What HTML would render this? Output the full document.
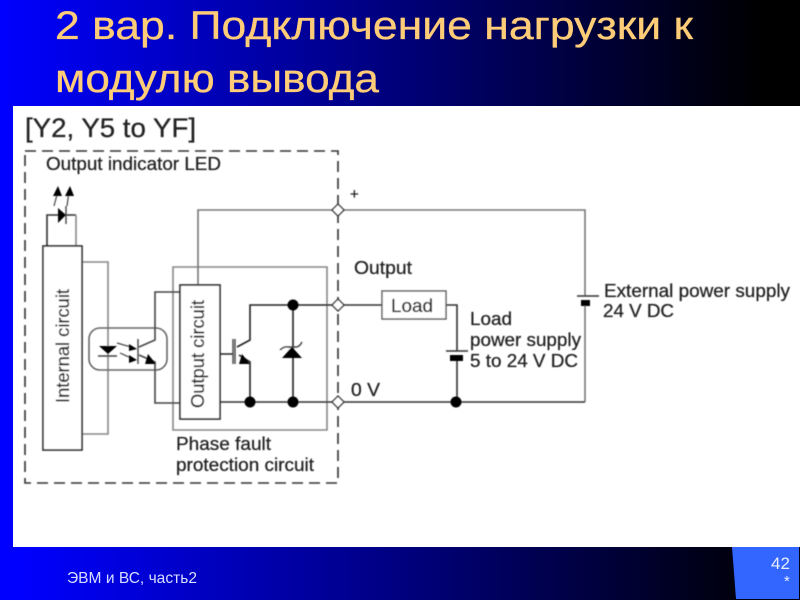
<!DOCTYPE html>
<html><head><meta charset="utf-8"><style>
html,body{margin:0;padding:0;width:800px;height:600px;overflow:hidden;background:#000}
svg{display:block}
text{font-family:"Liberation Sans",sans-serif}
</style></head><body>
<svg width="800" height="600" viewBox="0 0 800 600" xmlns="http://www.w3.org/2000/svg">
<defs><linearGradient id="g" gradientUnits="userSpaceOnUse" x1="0" x2="800" y1="0" y2="0"><stop offset="0" stop-color="#0000ff"/><stop offset=".95" stop-color="#000000"/></linearGradient>
<linearGradient id="f" gradientUnits="userSpaceOnUse" x1="20" x2="730" y1="0" y2="0"><stop offset="0" stop-color="#0000ff"/><stop offset="1" stop-color="#000010"/></linearGradient>
<filter id="b" x="-5%" y="-5%" width="110%" height="110%"><feGaussianBlur stdDeviation="0.4"/></filter></defs>
<rect width="800" height="600" fill="url(#g)"/>
<rect y="547" width="800" height="53" fill="url(#f)"/>
<rect x="13" y="106" width="787" height="441" fill="#fff"/>
<path d="M732 547H799V599H736Z" fill="#3366ff"/>
<g fill="#ffcc77" stroke="#ffcc77" stroke-width=".3" font-size="40"><text x="55" y="39" textLength="638" lengthAdjust="spacingAndGlyphs">2 вар. Подключение нагрузки к</text><text x="55" y="92" textLength="324" lengthAdjust="spacingAndGlyphs">модулю вывода</text></g>
<text x="67" y="583" font-size="16" fill="#d8deff" textLength="130" lengthAdjust="spacingAndGlyphs">ЭВМ и ВС, часть2</text>
<text x="771" y="569" font-size="17" fill="#e8eeff">42</text><text x="784" y="586" font-size="15" fill="#e8eeff">*</text>
<g filter="url(#b)">
<g fill="none" stroke="#555" stroke-width="1.6">
<path d="M25 151H338V483H25Z" stroke="#333" stroke-dasharray="11 6"/>
<path d="M173 267H327V430H173Z" stroke="#888"/>
<path d="M82 262H108V434H82" stroke="#888"/>
<rect x="89" y="328" width="78" height="42" rx="11" stroke="#666"/>
<path d="M198 285V210H585V296M585 305V402" stroke="#777"/>
<path d="M47 246V215H76" stroke="#333"/>
<path d="M76 215V246" stroke="#888"/>
<path d="M180 292H155V340L139 347M139 355L155 362V403H180" stroke="#444"/>
<path d="M220 402H585" stroke="#333"/>
<path d="M220 354H233M237 347L250 340V305H338M239 355L250 362V402M293 305V402" stroke="#222"/>
<path d="M338 305H382M446 305H457V351M457 360V402" stroke="#333"/>
</g>
<rect x="43" y="246" width="39" height="204" fill="#fff" stroke="#222" stroke-width="1.6"/>
<rect x="180" y="285" width="40" height="134" fill="#fff" stroke="#222" stroke-width="1.6"/>
<rect x="382" y="291" width="64" height="28" fill="#fff" stroke="#555" stroke-width="1.4"/>
<path d="M99 346H117L108 354Z M58 208L66 215L58 223Z M282 358H302L292 347Z" fill="#000"/>
<path d="M98 356H117M66 206V224M280 350Q284 346 288 347L297 347Q300 346 302 342M138 339V364M235 339V364M233 339V364" stroke="#444" stroke-width="1.4" fill="none"/>
<path d="M117 343L131 347M120 353L131 358M54 206L58 191M67 206L69 191" stroke="#444" stroke-width="1.2"/>
<path d="M137 349L129 344V351ZM137 360L129 355V363ZM58 186L53 196L62 196ZM70 186L65 196L74 196ZM148 354L156 364H145ZM242 354L250 364H239Z" fill="#000"/>
<g fill="#000"><circle cx="250" cy="402" r="5.5"/><circle cx="293" cy="402" r="5.5"/><circle cx="293" cy="305" r="5.5"/><circle cx="456" cy="402" r="5.5"/></g>
<path d="M446 351H468" stroke="#333" stroke-width="1.5"/><rect x="450" y="355" width="13" height="6" fill="#000"/>
<path d="M577 296H599" stroke="#333" stroke-width="1.5"/><rect x="581" y="300" width="9" height="6" fill="#000"/>
<g fill="#fff" stroke="#333" stroke-width="1.4"><path d="M332 210L338 204L344 210L338 216Z"/><path d="M332 305L338 299L344 305L338 311Z"/><path d="M332 402L338 396L344 402L338 408Z"/></g>
<g fill="#222" stroke="#222" stroke-width=".25">
<text x="25" y="137" font-size="27" textLength="171" lengthAdjust="spacingAndGlyphs">[Y2, Y5 to YF]</text>
<g font-size="18">
<text x="46" y="170" textLength="175" lengthAdjust="spacingAndGlyphs">Output indicator LED</text>
<text x="176" y="450" textLength="95" lengthAdjust="spacingAndGlyphs">Phase fault</text>
<text x="176" y="471" textLength="138" lengthAdjust="spacingAndGlyphs">protection circuit</text>
<text x="354" y="274" textLength="58" lengthAdjust="spacingAndGlyphs">Output</text>
<text x="391" y="312" textLength="42" lengthAdjust="spacingAndGlyphs">Load</text>
<text x="470" y="325" textLength="42" lengthAdjust="spacingAndGlyphs">Load</text>
<text x="470" y="346" textLength="111" lengthAdjust="spacingAndGlyphs">power supply</text>
<text x="470" y="367" textLength="108" lengthAdjust="spacingAndGlyphs">5 to 24 V DC</text>
<text x="604" y="297" textLength="186" lengthAdjust="spacingAndGlyphs">External power supply</text>
<text x="603" y="317" textLength="71" lengthAdjust="spacingAndGlyphs">24 V DC</text>
<text x="351" y="396" textLength="29" lengthAdjust="spacingAndGlyphs">0 V</text>
<text x="350" y="199" font-size="15">+</text>
<text transform="translate(69 403) rotate(-90)" textLength="114" lengthAdjust="spacingAndGlyphs">Internal circuit</text>
<text transform="translate(204 408) rotate(-90)" textLength="108" lengthAdjust="spacingAndGlyphs">Output circuit</text>
</g></g>
</g>
</svg>
</body></html>
